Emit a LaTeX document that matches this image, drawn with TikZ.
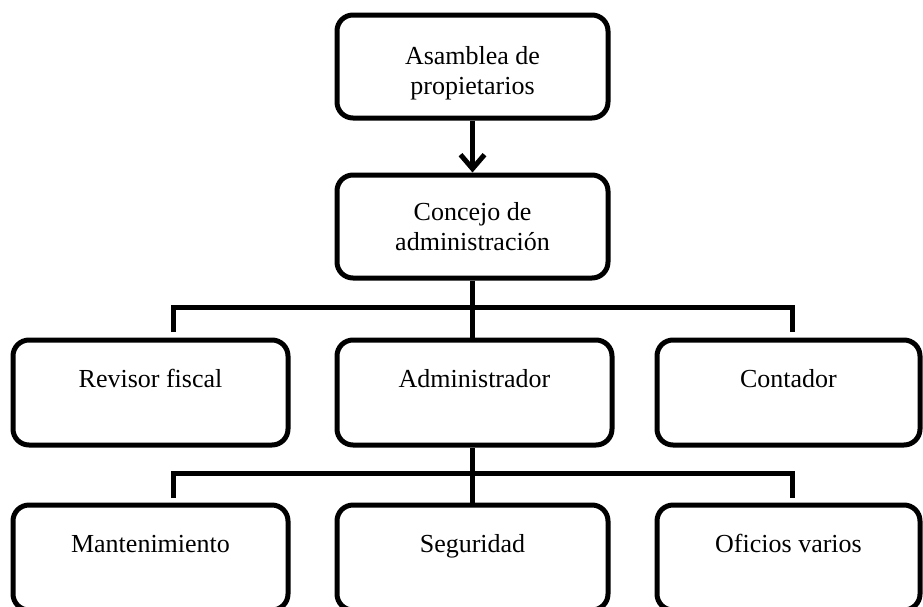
\documentclass[tikz,border=0pt]{standalone}
\usepackage{fontspec}
\setmainfont{Liberation Serif}
\usetikzlibrary{arrows.meta,positioning}
\tikzset{
  >={Straight Barb[length=14pt,width=24pt]},
}

\begin{document}
\begin{tikzpicture}[x=1pt,y=-1pt,
    box/.style={rectangle,rounded corners=16pt,draw,line width=5pt,align=center,
      font=\fontsize{26}{30}\selectfont},
    topbox/.style={box,minimum width=271,minimum height=103},
    leaf/.style={box,minimum height=105,text height=18pt,text depth=29pt},
    link/.style={line width=5pt}]

        \useasboundingbox (0,0) rectangle (923,606);
        \clip (0,0) rectangle (923,606);

        \node[topbox,text height=62pt] (asamblea) at (472.5,66.5) {Asamblea de\\propietarios};
        \node[topbox] (concejo)  at (472.5,226.5) {Concejo de\\administración};

        \node[leaf,minimum width=275] (admin)   at (474.5,392.5) {Administrador};
        \node[leaf,minimum width=275] (revisor) at (150.5,392.5) {Revisor fiscal};
        \node[leaf,minimum width=263] (contador) at (788.5,392.5) {Contador};

        \node[leaf,minimum width=271] (seguridad) at (472.5,557.5) {Seguridad};
        \node[leaf,minimum width=275] (mant)      at (150.5,557.5) {Mantenimiento};
        \node[leaf,minimum width=263] (oficios)   at (788.5,557.5) {Oficios varios};

        \coordinate (busA) at (173,307);
        \coordinate (busB) at (792,307);
        \coordinate (busC) at (173,473);
        \coordinate (busD) at (792,473);

        \draw[link,->] (asamblea.south) -- (concejo.north);

        \draw[link] (concejo.south) -- (concejo.south |- admin.north);
        \draw[link] ([yshift=-25pt]busA) -- (busA) -- (busB) -- ([yshift=-25pt]busB);

        \draw[link] (concejo.south |- admin.south) -- (seguridad.north);
        \draw[link] ([yshift=-25pt]busC) -- (busC) -- (busD) -- ([yshift=-25pt]busD);

      \end{tikzpicture}
\end{document}
